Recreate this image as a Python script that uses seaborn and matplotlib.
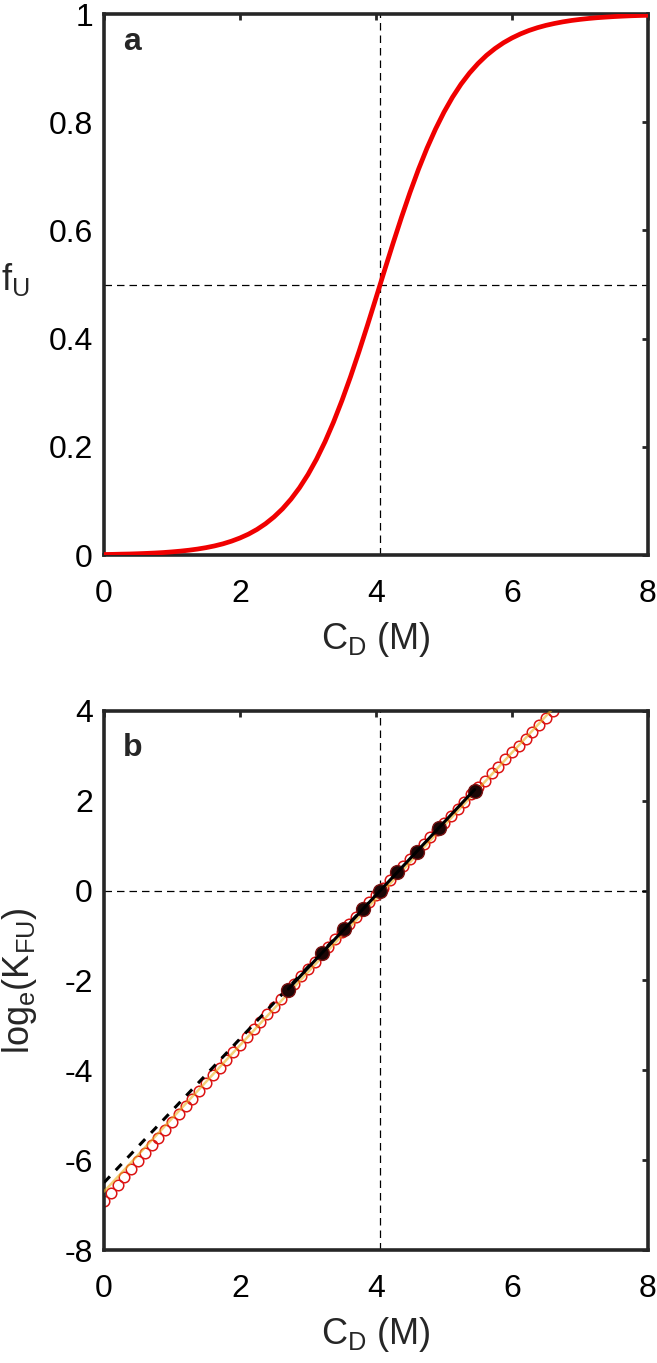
import matplotlib
matplotlib.use("Agg")
import matplotlib.pyplot as plt
import seaborn as sns
from matplotlib.ticker import FuncFormatter

# ---- panel a: fraction unfolded vs denaturant ----
cd_curve = [0.0, 0.125, 0.25, 0.375, 0.5, 0.625, 0.75, 0.875, 1.0, 1.125,
            1.25, 1.375, 1.5, 1.625, 1.75, 1.875, 2.0, 2.125, 2.25, 2.375,
            2.5, 2.625, 2.75, 2.875, 3.0, 3.125, 3.25, 3.375, 3.5, 3.625,
            3.75, 3.875, 4.0, 4.125, 4.25, 4.375, 4.5, 4.625, 4.75, 4.875,
            5.0, 5.125, 5.25, 5.375, 5.5, 5.625, 5.75, 5.875, 6.0, 6.125,
            6.25, 6.375, 6.5, 6.625, 6.75, 6.875, 7.0, 7.125, 7.25, 7.375,
            7.5, 7.625, 7.75, 7.875, 8.0]
fu_curve = [0.0010, 0.0012, 0.0016, 0.0019, 0.0024, 0.0030, 0.0037, 0.0046,
            0.0058, 0.0072, 0.0089, 0.0110, 0.0136, 0.0168, 0.0207, 0.0256,
            0.0315, 0.0386, 0.0473, 0.0578, 0.0704, 0.0854, 0.1033, 0.1243,
            0.1488, 0.1771, 0.2093, 0.2456, 0.2858, 0.3294, 0.3761, 0.4250,
            0.4753, 0.5260, 0.5760, 0.6243, 0.6702, 0.7130, 0.7521, 0.7873,
            0.8187, 0.8463, 0.8703, 0.8909, 0.9085, 0.9236, 0.9362, 0.9469,
            0.9558, 0.9633, 0.9696, 0.9748, 0.9791, 0.9826, 0.9856, 0.9881,
            0.9901, 0.9918, 0.9932, 0.9943, 0.9953, 0.9961, 0.9968, 0.9973,
            0.9977]

# ---- panel b: log_e(K_FU) ----
cd_open = [0.0, 0.1, 0.2, 0.3, 0.4, 0.5, 0.6, 0.7, 0.8, 0.9, 1.0, 1.1, 1.2,
           1.3, 1.4, 1.5, 1.6, 1.7, 1.8, 1.9, 2.0, 2.1, 2.2, 2.3, 2.4, 2.5,
           2.6, 2.7, 2.8, 2.9, 3.0, 3.1, 3.2, 3.3, 3.4, 3.5, 3.6, 3.7, 3.8,
           3.9, 4.0, 4.1, 4.2, 4.3, 4.4, 4.5, 4.6, 4.7, 4.8, 4.9, 5.0, 5.1,
           5.2, 5.3, 5.4, 5.5, 5.6, 5.7, 5.8, 5.9, 6.0, 6.1, 6.2, 6.3, 6.4,
           6.5, 6.6]
logk_open = [-6.91, -6.73, -6.55, -6.38, -6.20, -6.02, -5.85, -5.67, -5.50,
             -5.32, -5.15, -4.98, -4.80, -4.63, -4.46, -4.28, -4.11, -3.94,
             -3.77, -3.60, -3.43, -3.26, -3.09, -2.92, -2.75, -2.58, -2.41,
             -2.24, -2.08, -1.91, -1.74, -1.58, -1.41, -1.25, -1.08, -0.92,
             -0.75, -0.59, -0.42, -0.26, -0.10, 0.06, 0.23, 0.39, 0.55, 0.71,
             0.87, 1.03, 1.19, 1.35, 1.51, 1.67, 1.82, 1.98, 2.14, 2.30, 2.45,
             2.61, 2.76, 2.92, 3.08, 3.23, 3.38, 3.54, 3.69, 3.84, 4.00]

# transition-region points (fU = 0.1 ... 0.9)
cd_trans = [2.71, 3.20, 3.53, 3.81, 4.06, 4.31, 4.60, 4.93, 5.45]
logk_trans = [-2.21, -1.39, -0.85, -0.41, 0.0, 0.41, 0.85, 1.39, 2.21]

# linear fit through the transition points and its extrapolation
fit_cd = [2.71, 5.45]
fit_logk = [-2.19, 2.25]
extrap_cd = [0.0, 4.06]
extrap_logk = [-6.5, 0.0]

# straight line through all open points
lin_cd = [0.0, 6.6]
lin_logk = [-6.7, 4.05]

cm_mid = 4.06
fu_half = 0.5
logk_zero = 0.0

sns.set_theme(style="white")
plt.rcParams["font.family"] = ["Liberation Sans", "DejaVu Sans"]
plt.rcParams["mathtext.fontset"] = "custom"
plt.rcParams["mathtext.rm"] = "Liberation Sans"

axcol = "#262626"
tick_fs = 23
label_fs = 26

fig = plt.figure(figsize=(6.57, 13.63), dpi=100)
ax_a = fig.add_axes([0.1583, 0.5928, 0.828, 0.3969])
ax_b = fig.add_axes([0.1583, 0.0829, 0.828, 0.3955])


def style_axes(ax):
    for sp in ax.spines.values():
        sp.set_linewidth(2.6)
        sp.set_color(axcol)
    ax.tick_params(direction="in", top=True, right=True, length=4.5, width=2,
                   color=axcol, labelcolor="black", labelsize=tick_fs)
    ax.tick_params(axis="x", pad=17)
    ax.tick_params(axis="y", pad=8)
    ax.set_xlim(0, 8)
    ax.set_xticks([0, 2, 4, 6, 8])
    ax.xaxis.set_major_formatter(FuncFormatter(lambda v, p: "%g" % v))
    ax.yaxis.set_major_formatter(FuncFormatter(lambda v, p: "%g" % v))
    ax.set_xlabel(r"C$_\mathregular{D}$ (M)", fontsize=label_fs, labelpad=8)


# panel a
ax_a.axhline(fu_half, color="black", lw=0.9, ls=(0, (6, 4)), zorder=1)
ax_a.axvline(cm_mid, color="black", lw=0.9, ls=(0, (6, 4)), zorder=1)
sns.lineplot(x=cd_curve, y=fu_curve, ax=ax_a, color="#f00000", lw=3.4,
             solid_joinstyle="round", zorder=3)
style_axes(ax_a)
ax_a.set_ylim(0, 1)
ax_a.set_yticks([0, 0.2, 0.4, 0.6, 0.8, 1])
ax_a.set_ylabel(r"f$_\mathregular{U}$", fontsize=label_fs, rotation=0,
                ha="center", va="center")
ax_a.yaxis.set_label_coords(-0.163, 0.51)
ax_a.text(0.035, 0.933, "a", transform=ax_a.transAxes, fontsize=23,
          fontweight="bold", va="baseline", ha="left")

# panel b
ax_b.axhline(logk_zero, color="black", lw=0.9, ls=(0, (6, 4)), zorder=1)
ax_b.axvline(cm_mid, color="black", lw=0.9, ls=(0, (6, 4)), zorder=1)
sns.lineplot(x=cd_open, y=logk_open, ax=ax_b, linestyle="none", marker="o",
             markersize=7.6, markerfacecolor="none", markeredgecolor="#dc1414",
             markeredgewidth=1.1, zorder=2)
sns.lineplot(x=lin_cd, y=lin_logk, ax=ax_b, color="#EDB120", lw=1.8,
             alpha=0.6, zorder=3)
sns.lineplot(x=extrap_cd, y=extrap_logk, ax=ax_b, color="black", lw=2.2,
             linestyle=(0, (2.8, 2.8)), zorder=3)
sns.scatterplot(x=cd_trans, y=logk_trans, ax=ax_b, s=100, color="#1c0606",
                edgecolor="#7a1212", linewidth=1.0, zorder=4)
sns.lineplot(x=fit_cd, y=fit_logk, ax=ax_b, color="black", lw=2.2, zorder=5)
style_axes(ax_b)
ax_b.set_ylim(-8, 4)
ax_b.set_yticks([-8, -6, -4, -2, 0, 2, 4])
ax_b.set_ylabel(r"log$_\mathregular{e}$(K$_\mathregular{FU}$)",
                fontsize=label_fs, va="center", ha="center")
ax_b.yaxis.set_label_coords(-0.155, 0.5)
ax_b.text(0.035, 0.917, "b", transform=ax_b.transAxes, fontsize=23,
          fontweight="bold", va="baseline", ha="left")

fig.savefig("out.png", dpi=100)
